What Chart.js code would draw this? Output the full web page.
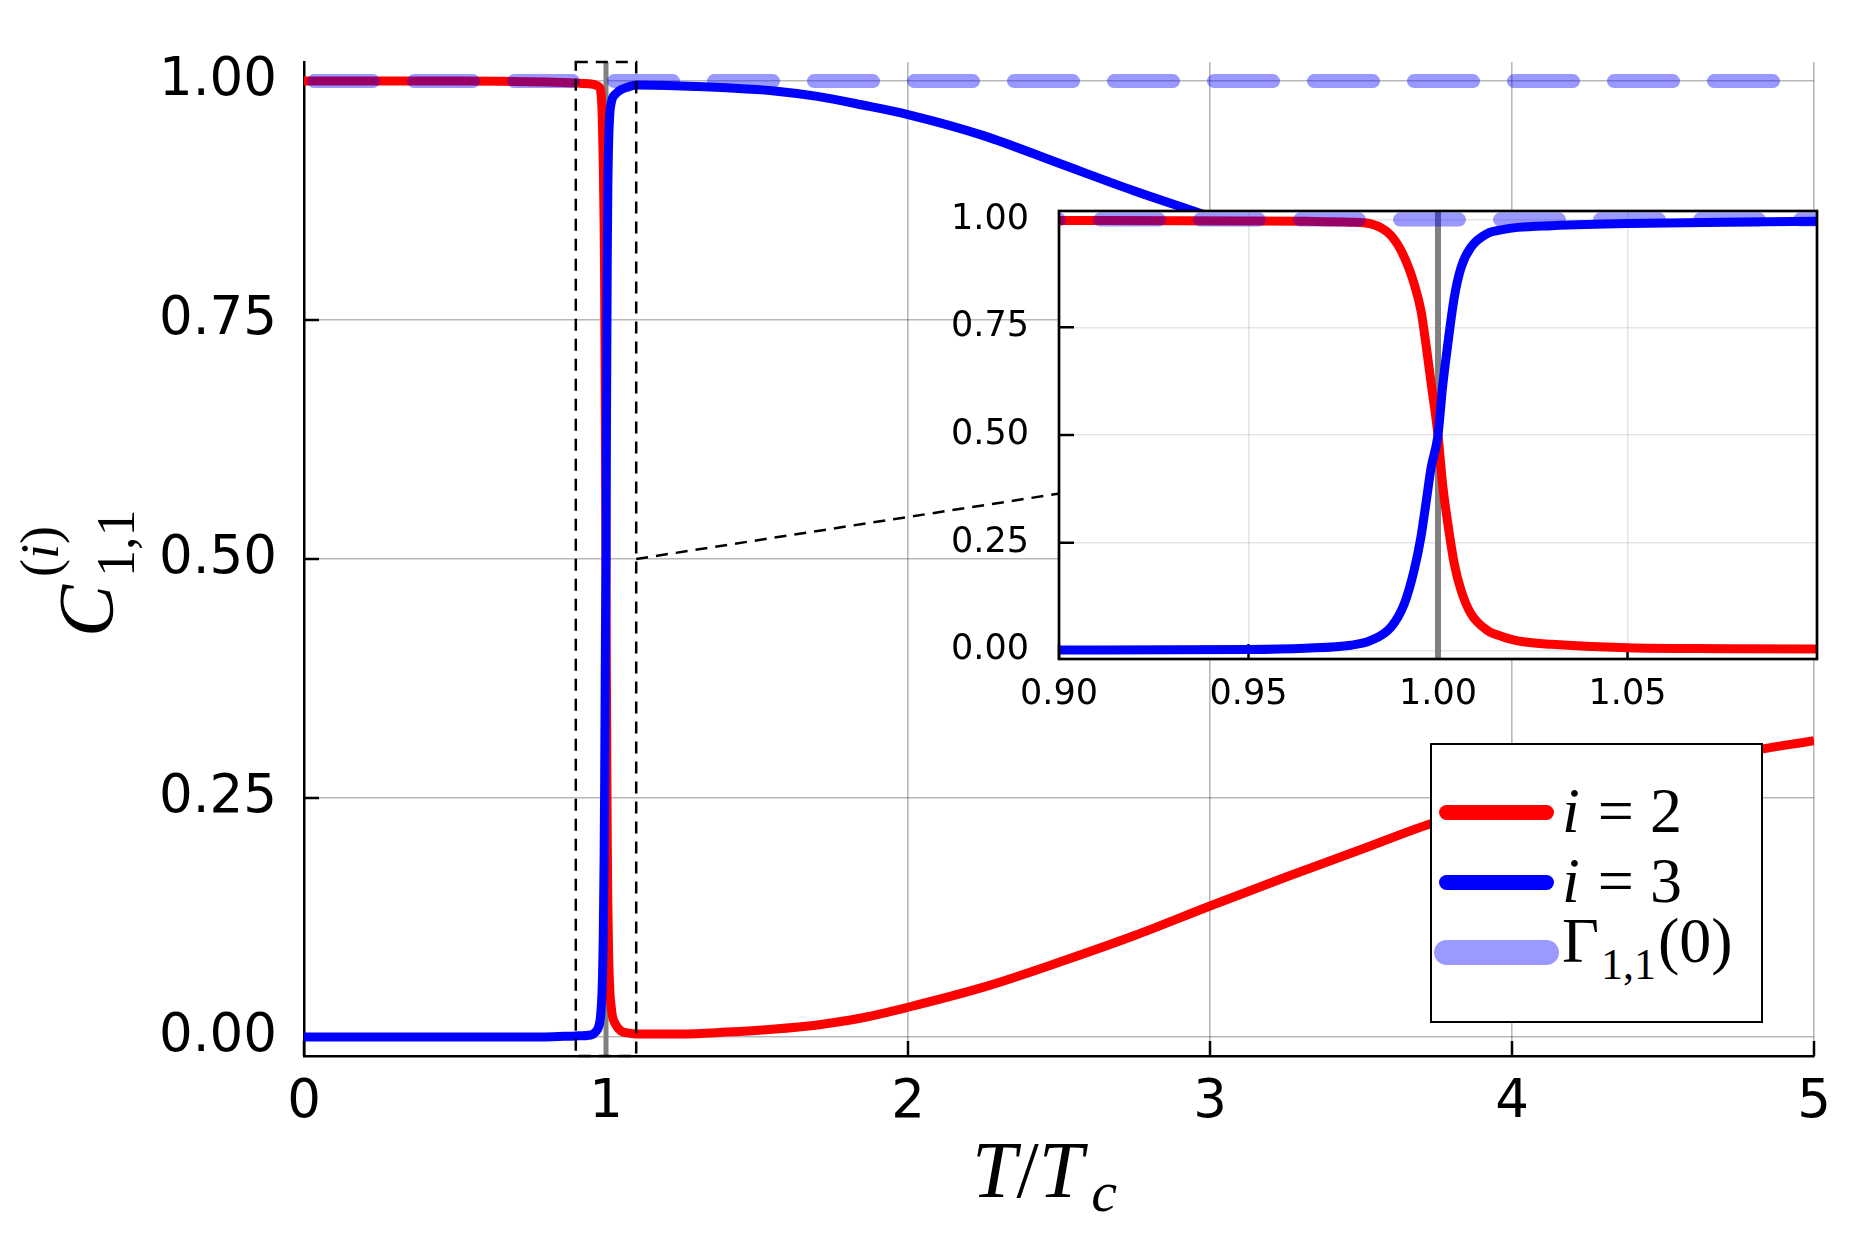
<!DOCTYPE html>
<html>
<head>
<meta charset="utf-8">
<script src="https://cdn.jsdelivr.net/npm/chart.js@4.4.0/dist/chart.umd.min.js"></script>
<style>
  html, body { margin: 0; padding: 0; background: #fff; }
  #wrap { position: relative; width: 1875px; height: 1250px; overflow: hidden; background: #fff; }
  #main, #inset { position: absolute; left: 0; top: 0; }
  .math { position: absolute; font-family: "Liberation Serif", "DejaVu Serif", serif; color: #000; white-space: nowrap; line-height: 0; }
  #xtitle { left: 972px; top: 1170px; font-size: 80px; }
  #xtitle .c { position: relative; top: 14px; font-size: 58px; margin-left: 8px; }
  #ytitle { left: 86px; top: 637px; font-size: 78px; transform-origin: 0 0; transform: rotate(-90deg); }
  #ytitle .ss { position: relative; display: inline-block; width: 70px; height: 0; margin-left: 8px; }
  #ytitle .ss span { position: absolute; left: 0; font-size: 54px; line-height: 0; }
  #legend { position: absolute; left: 1430px; top: 743px; width: 333px; height: 280px; box-sizing: border-box;
            border: 2.7px solid #000; background: #fff; }
  #legend .sw { position: absolute; display: block; }
  #legend .lt { position: absolute; font-family: "Liberation Serif", "DejaVu Serif", serif; font-size: 64px; line-height: 0;
                white-space: nowrap; color: #000; }
  #legend .lt .eq { margin: 0 16px 0 18px; }
  #legend .lt .sub { position: relative; top: 17px; font-size: 44px; color: #000; margin: 0 2px; }
</style>
</head>
<body>
<div id="wrap">
  <canvas id="main" width="1875" height="1250"></canvas>
  <canvas id="inset" width="900" height="570"></canvas>
  <div id="xtitle" class="math"><i>T</i>/<i>T</i><span class="c"><i>c</i></span></div>
  <div id="ytitle" class="math"><i>C</i><span class="ss"><span style="top:-72px">(<i>i</i>)</span><span style="top:4px">1,1</span></span></div>
  <div id="legend">
    <span class="sw" style="left:7px; top:60px; width:115px; height:15px; border-radius:8px; background:#ff0000;"></span>
    <span class="sw" style="left:7px; top:130px; width:115px; height:15px; border-radius:8px; background:#0000ff;"></span>
    <span class="sw" style="left:2px; top:195px; width:125px; height:25px; border-radius:13px; background:rgba(0,0,255,0.4);"></span>
    <div class="lt" style="left:130px; top:66px;"><i>i</i><span class="eq">=</span>2</div>
    <div class="lt" style="left:130px; top:136px;"><i>i</i><span class="eq">=</span>3</div>
    <div class="lt" style="left:130px; top:196px;">Γ<span class="sub">1,1</span>(0)</div>
  </div>
</div>
<script>
// temperature T/Tc and the two coefficients C_{1,1}^{(i)}
const T  = [0, 0.5, 0.8, 0.9, 0.95, 0.965, 0.977, 0.9823, 0.9876, 0.9911,
            0.9937, 0.9955, 0.9968, 0.9982, 1.0, 1.0012, 1.0026, 1.0043, 1.0061, 1.0087,
            1.0131, 1.0167, 1.0211, 1.03, 1.05, 1.075, 1.1, 1.25, 1.4, 1.55,
            1.7, 1.85, 2.0, 2.25, 2.5, 2.75, 3.0, 3.25, 3.5, 3.75,
            4.0, 4.25, 4.5, 4.75, 5.0];
const C2 = [1.000, 1.000, 0.999, 0.998, 0.997, 0.996, 0.994, 0.990, 0.963, 0.913,
            0.851, 0.789, 0.712, 0.619, 0.500, 0.387, 0.294, 0.201, 0.139, 0.085,
            0.046, 0.033, 0.022, 0.014, 0.006, 0.004, 0.003, 0.003, 0.005, 0.008,
            0.0125, 0.020, 0.031, 0.052, 0.078, 0.106, 0.137, 0.167, 0.196, 0.225,
            0.247, 0.265, 0.282, 0.297, 0.310];
const C3 = [0.000, 0.000, 0.000, 0.001, 0.002, 0.005, 0.012, 0.023, 0.054, 0.108,
            0.186, 0.263, 0.340, 0.425, 0.500, 0.611, 0.712, 0.820, 0.889, 0.936,
            0.968, 0.976, 0.982, 0.986, 0.991, 0.994, 0.996, 0.995, 0.993, 0.990,
            0.984, 0.975, 0.965, 0.943, 0.914, 0.885, 0.858, 0.828, 0.799, 0.770,
            0.748, 0.730, 0.713, 0.698, 0.685];
// Gamma_{1,1}(0) reference level
const GAMMA_T = [0, 5];
const GAMMA   = [1, 1];
const T_CRIT = 1;

const X_TICKS = [0, 1, 2, 3, 4, 5];
const Y_TICKS = [0, 0.25, 0.5, 0.75, 1];
const INSET_X_TICKS = [0.90, 0.95, 1.00, 1.05];
const INSET_Y_TICKS = [0, 0.25, 0.5, 0.75, 1];
const X_RANGE = [0, 5];
const Y_RANGE = [-0.02, 1.02];
const INSET_X_RANGE = [0.9, 1.1];
const INSET_Y_RANGE = [-0.02, 1.02];

// layout of the inset canvas on the page
const INSET_LEFT = 940, INSET_TOP = 160;

Chart.defaults.font.family = '"DejaVu Sans", sans-serif';
Chart.defaults.color = '#000';

function pts(xs, ys) {
  return xs.map((x, i) => ({ x: x, y: ys[i] }));
}

function makeDatasets(yr, lw, gw, vw, dashOffset, clip) {
  return [
    { label: 'Gamma', data: pts(GAMMA_T, GAMMA), borderColor: 'rgba(0,0,255,0.4)', borderWidth: gw,
      borderDash: [59, 41], borderDashOffset: dashOffset, borderCapStyle: 'round', order: 0, clip: clip },
    { label: 'i = 3', data: pts(T, C3), borderColor: '#0000ff', borderWidth: lw,
      cubicInterpolationMode: 'monotone', borderJoinStyle: 'round', order: 1, clip: clip },
    { label: 'i = 2', data: pts(T, C2), borderColor: '#ff0000', borderWidth: lw,
      cubicInterpolationMode: 'monotone', borderJoinStyle: 'round', order: 2, clip: clip },
    { label: 'Tc', data: [{ x: T_CRIT, y: yr[0] }, { x: T_CRIT, y: yr[1] }], borderColor: '#808080',
      borderWidth: vw, order: 3, clip: clip }
  ];
}

function inwardTicks(chart, len) {
  const { ctx, chartArea: a, scales: { x, y } } = chart;
  ctx.save();
  ctx.strokeStyle = '#000';
  ctx.lineWidth = 2.5;
  ctx.beginPath();
  x.ticks.forEach(t => {
    const px = x.getPixelForValue(t.value);
    ctx.moveTo(px, a.bottom); ctx.lineTo(px, a.bottom - len);
  });
  y.ticks.forEach(t => {
    const py = y.getPixelForValue(t.value);
    ctx.moveTo(a.left, py); ctx.lineTo(a.left + len, py);
  });
  ctx.stroke();
  ctx.restore();
}

function scaleOpts(range, ticks, fmt, size, pad, fit, gridColor, border) {
  return {
    type: 'linear', min: range[0], max: range[1],
    afterBuildTicks: s => { s.ticks = ticks.map(v => ({ value: v })); },
    afterFit: fit,
    grid: { color: gridColor, lineWidth: 1.6, drawTicks: false },
    border: { display: border, color: '#000', width: 2.5 },
    ticks: { font: { size: size }, padding: pad, color: '#000', autoSkip: false, maxRotation: 0,
             callback: v => fmt(v) }
  };
}

// inset (zoom around T = Tc)
const insetCanvas = document.getElementById('inset');
insetCanvas.style.left = INSET_LEFT + 'px';
insetCanvas.style.top = INSET_TOP + 'px';

const insetChart = new Chart(insetCanvas, {
  type: 'line',
  data: { datasets: makeDatasets(INSET_Y_RANGE, 9, 14, 6, 48, 0) },
  options: {
    responsive: false, animation: false, events: [],
    layout: { padding: { top: 31, right: 23, left: 0, bottom: 0 } },
    elements: { point: { radius: 0 } },
    plugins: { legend: { display: false }, tooltip: { enabled: false } },
    scales: {
      x: scaleOpts(INSET_X_RANGE, INSET_X_TICKS, v => v.toFixed(2), 35, 15, s => { s.height = 71; }, 'rgba(0,0,0,0.1)', false),
      y: scaleOpts(INSET_Y_RANGE, INSET_Y_TICKS, v => v.toFixed(2), 35, 30, s => { s.width = 119; }, 'rgba(0,0,0,0.1)', false)
    }
  },
  plugins: [{
    id: 'insetFrame',
    beforeDraw(chart) {
      const a = chart.chartArea, ctx = chart.ctx;
      ctx.save(); ctx.fillStyle = '#fff';
      ctx.fillRect(a.left, a.top, a.right - a.left, a.bottom - a.top);
      ctx.restore();
    },
    beforeDatasetsDraw(chart) { inwardTicks(chart, 15); },
    afterDatasetsDraw(chart) {
      const a = chart.chartArea, ctx = chart.ctx;
      ctx.save(); ctx.strokeStyle = '#000'; ctx.lineWidth = 2.7;
      ctx.strokeRect(a.left, a.top, a.right - a.left, a.bottom - a.top);
      ctx.restore();
    }
  }]
});

// main chart
new Chart(document.getElementById('main'), {
  type: 'line',
  data: { datasets: makeDatasets(Y_RANGE, 9, 14, 5, 90, undefined) },
  options: {
    responsive: false, animation: false, events: [],
    layout: { padding: { top: 62, right: 61, left: 0, bottom: 0 } },
    elements: { point: { radius: 0 } },
    plugins: { legend: { display: false }, tooltip: { enabled: false } },
    scales: {
      x: scaleOpts(X_RANGE, X_TICKS, v => String(v), 53, 15, s => { s.height = 194; }, 'rgba(0,0,0,0.28)', true),
      y: scaleOpts(Y_RANGE, Y_TICKS, v => v.toFixed(2), 53, 27, s => { s.width = 304; }, 'rgba(0,0,0,0.28)', true)
    }
  },
  plugins: [{
    id: 'lens',
    beforeDatasetsDraw(chart) { inwardTicks(chart, 15); },
    afterDatasetsDraw(chart) {
      const { ctx, scales: { x, y } } = chart;
      const x0 = x.getPixelForValue(INSET_X_RANGE[0]), x1 = x.getPixelForValue(INSET_X_RANGE[1]);
      const y0 = y.getPixelForValue(INSET_Y_RANGE[1]), y1 = y.getPixelForValue(INSET_Y_RANGE[0]);
      const ia = insetChart.chartArea;
      const cx = INSET_LEFT + (ia.left + ia.right) / 2, cy = INSET_TOP + (ia.top + ia.bottom) / 2;
      ctx.save();
      ctx.strokeStyle = '#000'; ctx.lineWidth = 2.5; ctx.setLineDash([12, 8]);
      ctx.strokeRect(x0, y0, x1 - x0, y1 - y0);
      ctx.beginPath();
      ctx.moveTo(x1, (y0 + y1) / 2);
      ctx.lineTo(cx, cy);
      ctx.stroke();
      ctx.restore();
    }
  }]
});
</script>
</body>
</html>
